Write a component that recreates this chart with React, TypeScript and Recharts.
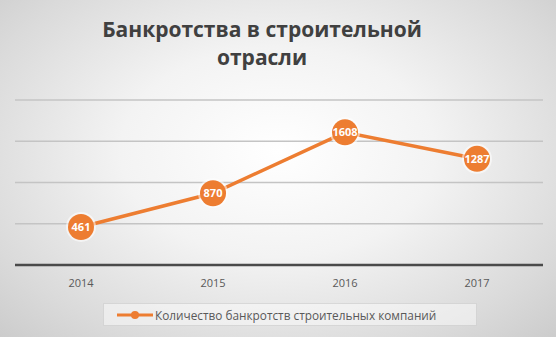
import { LineChart, Line, XAxis, YAxis, CartesianGrid, Legend, LabelList } from "recharts";

const YEARS = ["2014", "2015", "2016", "2017"];
const BANKRUPTCIES = [461, 870, 1608, 1287];
const Y_TICKS = [0, 500, 1000, 1500, 2000];

const SERIES_NAME = "Количество банкротств строительных компаний";
const ORANGE = "#ED7D31";

const data = YEARS.map((year, i) => ({ year, value: BANKRUPTCIES[i] }));

function Dot(props: { cx?: number; cy?: number; index?: number }) {
  const { cx, cy, index } = props;
  if (cx == null || cy == null) return null;
  return (
    <g key={`dot-${index}`}>
      <circle cx={cx} cy={cy} r={15} fill="#fff" opacity={0.55} />
      <circle cx={cx} cy={cy} r={13} fill={ORANGE} />
    </g>
  );
}

function LegendBox() {
  return (
    <div
      style={{
        width: 374,
        height: 23,
        marginLeft: 88,
        background: "rgba(255,255,255,0.45)",
        border: "1px solid rgba(190,190,190,0.5)",
        boxSizing: "border-box",
        display: "flex",
        alignItems: "center",
        paddingLeft: 13,
        fontFamily: "'Open Sans', sans-serif",
        fontSize: 11.8,
        color: "#595959",
      }}
    >
      <svg width={36} height={10} style={{ marginRight: 2 }}>
        <line x1={0} y1={5} x2={36} y2={5} stroke={ORANGE} strokeWidth={3} />
        <circle cx={18} cy={5} r={4} fill={ORANGE} />
      </svg>
      <span>{SERIES_NAME}</span>
    </div>
  );
}

export default function App() {
  return (
    <div
      style={{
        position: "absolute",
        left: 0,
        top: 0,
        width: 556,
        height: 337,
        background:
          "radial-gradient(ellipse at 50% 45%, #ffffff 0%, #f3f3f3 40%, #dadada 80%, #cccccc 100%)",
        overflow: "hidden",
      }}
    >
      <div
        style={{
          position: "absolute",
          left: -32,
          top: 15,
          width: 588,
          textAlign: "center",
          fontFamily: "'Open Sans', sans-serif",
          fontWeight: 700,
          fontSize: 21,
          lineHeight: "28px",
          color: "#404040",
        }}
      >
        Банкротства в строительной
        <br />
        отрасли
      </div>
      <LineChart
        width={556}
        height={337}
        data={data}
        margin={{ top: 100, right: 13, bottom: 11, left: 15 }}
        style={{ position: "absolute", left: 0, top: 0 }}
      >
        <CartesianGrid vertical={false} stroke="#c4c4c4" strokeWidth={1.5} />
        <YAxis hide domain={[0, 2000]} ticks={Y_TICKS} width={0} />
        <XAxis
          dataKey="year"
          height={38}
          padding={{ left: 66, right: 66 }}
          tickLine={false}
          tickMargin={8}
          axisLine={{ stroke: "#4a4a4a", strokeWidth: 2.5 }}
          tick={{ fill: "#595959", fontSize: 11, fontFamily: "'Open Sans', sans-serif" }}
        />
        <Legend verticalAlign="bottom" content={() => <LegendBox />} />
        <Line
          type="linear"
          dataKey="value"
          name={SERIES_NAME}
          stroke={ORANGE}
          strokeWidth={3.5}
          dot={<Dot />}
          activeDot={false}
          isAnimationActive={false}
        >
          <LabelList
            dataKey="value"
            position="center"
            fill="#ffffff"
            fontSize={11}
            fontWeight={700}
            fontFamily="'Open Sans', sans-serif"
          />
        </Line>
      </LineChart>
    </div>
  );
}
